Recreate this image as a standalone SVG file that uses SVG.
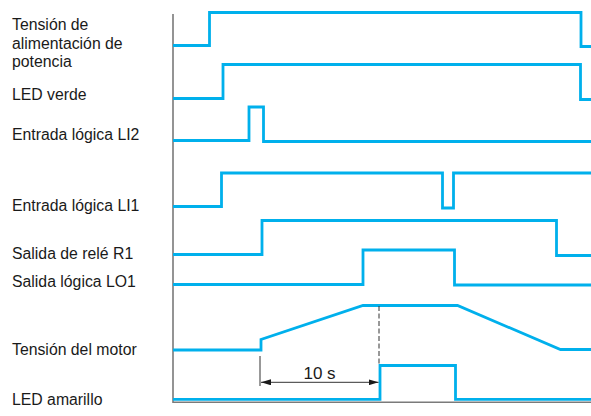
<svg xmlns="http://www.w3.org/2000/svg" width="591" height="416" viewBox="0 0 591 416">
  <style>
    .lbl { font-family: "Liberation Sans", Arial, sans-serif; font-size: 15.8px; fill: #1a1a1a; }
    .sig { fill: none; stroke: #00b0ec; stroke-width: 2.8; stroke-linejoin: miter; }
    .axis { fill: none; stroke: #7a7a7a; stroke-width: 1.6; }
    .dim { fill: none; stroke: #333; stroke-width: 1; }
  </style>
  <defs>
    <marker id="arr" viewBox="0 0 10 6" refX="10" refY="3" markerWidth="10" markerHeight="6" markerUnits="userSpaceOnUse" orient="auto-start-reverse">
      <path d="M0,0 L10,3 L0,6 Z" fill="#1a1a1a"/>
    </marker>
  </defs>
  <rect width="591" height="416" fill="#ffffff"/>

  <!-- time axis -->
  <g id="axes">
    <path class="axis" d="M173,14 V402.3 H591"/>
  </g>

  <!-- signal labels -->
  <g id="labels">
    <text class="lbl" x="12" y="30">Tensión de</text>
    <text class="lbl" x="12" y="48.5">alimentación de</text>
    <text class="lbl" x="12" y="67">potencia</text>
    <text class="lbl" x="12" y="99.5">LED verde</text>
    <text class="lbl" x="12" y="140">Entrada lógica LI2</text>
    <text class="lbl" x="12" y="211">Entrada lógica LI1</text>
    <text class="lbl" x="12" y="258.5">Salida de relé R1</text>
    <text class="lbl" x="12" y="286.5">Salida lógica LO1</text>
    <text class="lbl" x="12" y="355">Tensión del motor</text>
    <text class="lbl" x="12" y="405">LED amarillo</text>
  </g>

  <!-- waveforms -->
  <g id="connectors">
    <path id="w-power" class="sig" d="M173,45.5 H209.5 V12.5 H581 V46.5 H591"/>
    <path id="w-green" class="sig" d="M173,98.5 H223 V64.5 H580.5 V99.5 H591"/>
    <path id="w-li2" class="sig" d="M173,140.5 H249 V107 H263.5 V141.5 H591"/>
    <path id="w-li1" class="sig" d="M173,206.5 H221.5 V173 H442.5 V208 H453.5 V173 H591"/>
    <path id="w-r1" class="sig" d="M173,254.5 H262 V220.5 H556.5 V255.5 H591"/>
    <path id="w-lo1" class="sig" d="M173,284.5 H363 V250 H454.5 V285 H591"/>
    <path id="w-motor" class="sig" d="M173,350 H261 V339.5 L363,305.5 H457.5 L560.5,349.5 H591"/>
    <path id="w-yellow" class="sig" d="M173,399.3 H380 V365.5 H455.5 V399.3 H591"/>
  </g>

  <!-- 10 s ramp time dimension -->
  <g id="dimension">
    <line class="dim" x1="379" y1="306" x2="379" y2="365" stroke-dasharray="5,2.5"/>
    <line class="dim" x1="260" y1="356" x2="260" y2="386"/>
    <line class="dim" x1="261" y1="382.3" x2="378.5" y2="382.3" marker-start="url(#arr)" marker-end="url(#arr)"/>
    <text x="319.5" y="379" text-anchor="middle" font-family="Liberation Sans, Arial, sans-serif" font-size="17" fill="#1a1a1a">10 s</text>
  </g>
</svg>
